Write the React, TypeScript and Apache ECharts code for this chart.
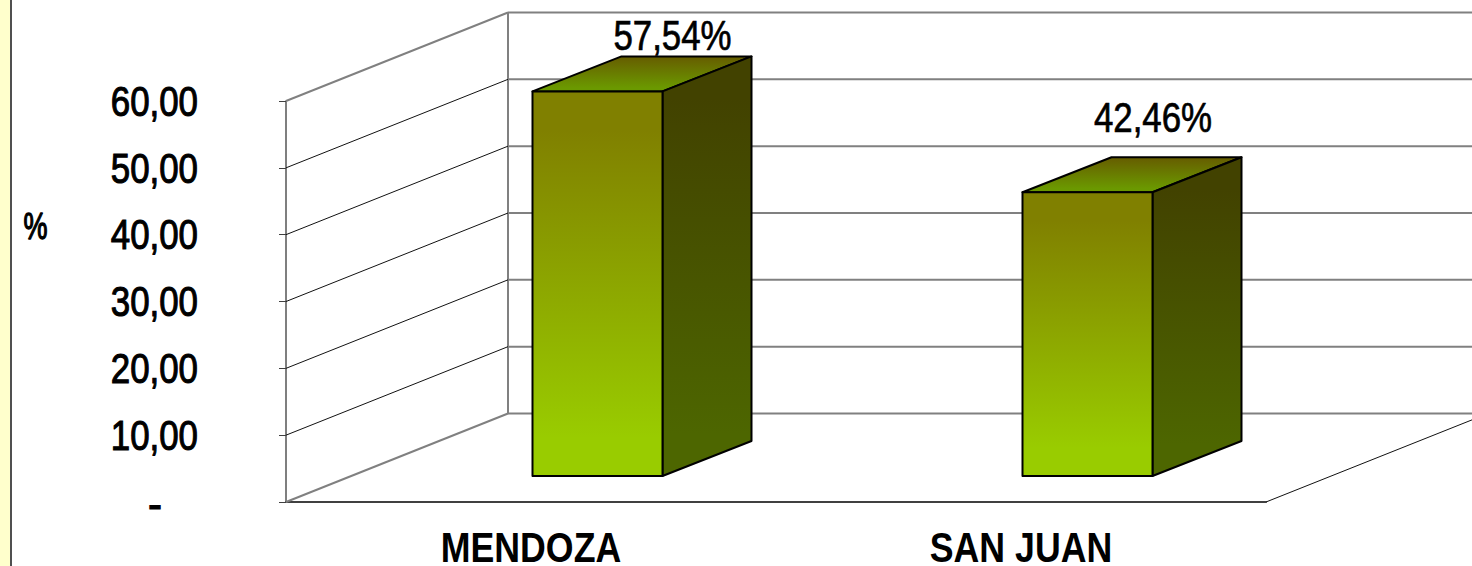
import React, { useEffect, useRef } from "react";
import * as echarts from "echarts";

const categories = ["MENDOZA", "SAN JUAN"];
const values = [57.54, 42.46];
const dataLabels = ["57,54%", "42,46%"];
const yTicks = [0, 10, 20, 30, 40, 50, 60];
const yTickLabels = ["-", "10,00", "20,00", "30,00", "40,00", "50,00", "60,00"];
const yAxisTitle = "%";

const FONT = '"Liberation Sans", Arial, sans-serif';
const TEXT_SCALE = 0.83;
const WALL_DX = 222;
const WALL_DY = -88.5;
const BAR_DX = 1.5;
const BAR_DY = -26;
const BAR_W = 130;
const SIDE_DX = 89;
const SIDE_DY = -35;
const LABEL_OFFSETS = [
  [141.5, -56],
  [132, -75],
];

const grad = (a: string, b: string, s0 = 0, s1 = 1) => ({
  type: "linear",
  x: 0,
  y: 0,
  x2: 0,
  y2: 1,
  colorStops: [
    { offset: 0, color: a },
    { offset: s0, color: a },
    { offset: s1, color: b },
    { offset: 1, color: b },
  ],
});

const labelStyle = (text: string, align: string, size = 42, heavy = 1.1, weight = "normal") => ({
  text,
  font: `${weight} ${size}px ${FONT}`,
  fill: "#000",
  stroke: "#000",
  lineWidth: heavy,
  lineHeight: 36,
  align,
  verticalAlign: "middle",
});

export default function App() {
  const ref = useRef<HTMLDivElement>(null);
  useEffect(() => {
    const chart = echarts.init(ref.current!, undefined, { renderer: "svg" });
    chart.setOption({
      animation: false,
      backgroundColor: "#ffffff",
      grid: {
        left: 286,
        top: 101,
        width: 980,
        height: 401,
        containLabel: false,
        outerBoundsMode: "none",
      },
      graphic: [
        { type: "rect", shape: { x: 0, y: 0, width: 10, height: 566 }, style: { fill: "#FFFFCC" } },
        { type: "rect", shape: { x: 10, y: 0, width: 2, height: 566 }, style: { fill: "#505050" } },
        {
          type: "text",
          x: 35.5,
          y: 227,
          scaleX: 0.75,
          style: labelStyle(yAxisTitle, "center", 36, 1.3),
        },
      ],
      xAxis: {
        type: "category",
        data: categories,
        axisLine: { lineStyle: { color: "#404040", width: 2 } },
        axisTick: { length: 7, lineStyle: { color: "#404040", width: 1 } },
        axisLabel: { show: false },
      },
      yAxis: {
        type: "value",
        min: 0,
        max: 60,
        interval: 10,
        splitLine: { show: false },
        axisLine: { show: true, lineStyle: { color: "#555555", width: 1.5 } },
        axisTick: { show: true, length: 7, lineStyle: { color: "#404040", width: 1 } },
        axisLabel: { show: false },
      },
      series: [
        {
          type: "custom",
          clip: false,
          silent: true,
          z: 1,
          data: yTicks.map((v, i) => [0, v, i]),
          renderItem: (params: any, api: any) => {
            const v = api.value(1);
            const x0 = params.coordSys.x;
            const y = api.coord([0, v])[1];
            const edge = v === 0 || v === 60;
            const gray = { stroke: "#808080", lineWidth: 2 };
            const bx = x0 + WALL_DX;
            const by = y + WALL_DY;
            const children: any[] = [
              {
                type: "line",
                shape: { x1: bx, y1: by, x2: 1480, y2: by },
                style: gray,
              },
              {
                type: "line",
                shape: { x1: x0, y1: y, x2: bx, y2: by },
                style: edge ? gray : { stroke: "#111111", lineWidth: 1 },
              },
              v === 0
                ? {
                    type: "text",
                    x: x0 - 131,
                    y: y + 2,
                    style: labelStyle(yTickLabels[api.value(2)], "center"),
                  }
                : {
                    type: "text",
                    x: x0 - 88,
                    y: y,
                    scaleX: TEXT_SCALE,
                    style: labelStyle(yTickLabels[api.value(2)], "right"),
                  },
            ];
            if (v === 0) {
              const xr = x0 + params.coordSys.width;
              children.push(
                {
                  type: "line",
                  shape: { x1: bx, y1: by, x2: bx, y2: y + WALL_DY - params.coordSys.height },
                  style: gray,
                },
                {
                  type: "line",
                  shape: { x1: xr, y1: y, x2: xr + WALL_DX, y2: y + WALL_DY },
                  style: { stroke: "#111111", lineWidth: 1 },
                }
              );
            }
            return { type: "group", children };
          },
        },
        {
          type: "custom",
          clip: false,
          silent: true,
          z: 3,
          data: values.map((v, i) => [i, v]),
          renderItem: (_params: any, api: any) => {
            const i = api.value(0);
            const [cx, yTop] = api.coord([i, api.value(1)]);
            const yBase = api.coord([i, 0])[1];
            const l = cx + BAR_DX;
            const r = l + BAR_W;
            const t = yTop + BAR_DY;
            const b = yBase + BAR_DY;
            const edge = { stroke: "#000000", lineWidth: 2, lineJoin: "round" };
            return {
              type: "group",
              children: [
                {
                  type: "polygon",
                  shape: {
                    points: [
                      [l, t],
                      [l + SIDE_DX, t + SIDE_DY],
                      [r + SIDE_DX, t + SIDE_DY],
                      [r, t],
                    ],
                  },
                  style: { ...edge, fill: grad("#665C00", "#6B9900", 0, 0.9) },
                },
                {
                  type: "polygon",
                  shape: {
                    points: [
                      [r, t],
                      [r + SIDE_DX, t + SIDE_DY],
                      [r + SIDE_DX, b + SIDE_DY],
                      [r, b],
                    ],
                  },
                  style: { ...edge, fill: grad("#424200", "#4D6600", 0.1, 0.9) },
                },
                {
                  type: "rect",
                  shape: { x: l, y: t, width: BAR_W, height: b - t },
                  style: { ...edge, fill: grad("#808000", "#99CC00", 0.1, 0.9) },
                },
                {
                  type: "text",
                  x: cx + LABEL_OFFSETS[i][0],
                  y: t + LABEL_OFFSETS[i][1],
                  scaleX: TEXT_SCALE,
                  style: labelStyle(dataLabels[i], "center", 42, 0.7),
                },
                {
                  type: "text",
                  x: cx,
                  y: yBase + 45,
                  scaleX: 0.85,
                  style: labelStyle(categories[i], "center", 42, 0, "bold"),
                },
              ],
            };
          },
        },
      ],
    });
    return () => chart.dispose();
  }, []);
  return (
    <div
      ref={ref}
      style={{ position: "absolute", left: 0, top: 0, width: 1472, height: 566 }}
    />
  );
}
